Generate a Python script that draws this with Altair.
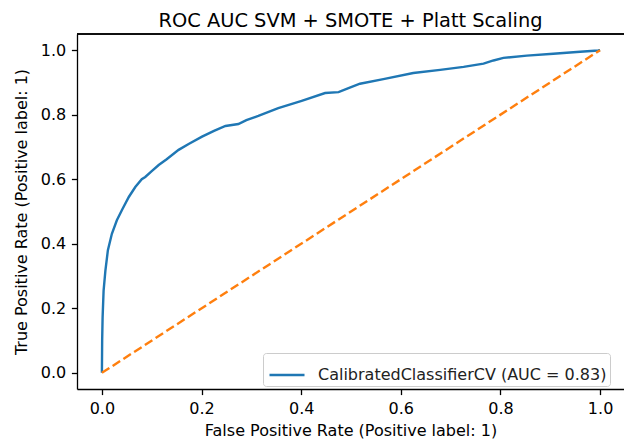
import altair as alt
import pandas as pd

# ROC curve values
fpr = [0.0, 0.0005, 0.0014, 0.0034, 0.007, 0.012, 0.020, 0.030, 0.040, 0.054,
       0.067, 0.080, 0.087, 0.100, 0.114, 0.130, 0.154, 0.175, 0.201, 0.225,
       0.248, 0.274, 0.290, 0.314, 0.354, 0.401, 0.448, 0.475, 0.495, 0.518,
       0.565, 0.625, 0.679, 0.726, 0.766, 0.786, 0.806, 0.853, 0.906, 0.960,
       0.996, 1.0]
tpr = [0.0, 0.100, 0.172, 0.255, 0.317, 0.380, 0.431, 0.473, 0.504, 0.545,
       0.576, 0.600, 0.607, 0.625, 0.644, 0.662, 0.691, 0.710, 0.732, 0.750,
       0.765, 0.771, 0.783, 0.796, 0.820, 0.843, 0.867, 0.870, 0.882, 0.896,
       0.910, 0.929, 0.939, 0.948, 0.958, 0.968, 0.976, 0.983, 0.989, 0.995,
       0.999, 1.0]
chance_x = [0.0, 1.0]
chance_y = [0.0, 1.0]
series_name = "CalibratedClassifierCV (AUC = 0.83)"
tick_vals = [0.0, 0.2, 0.4, 0.6, 0.8, 1.0]

roc = pd.DataFrame({"fpr": fpr, "tpr": tpr, "series": series_name, "order": range(len(fpr))})
chance = pd.DataFrame({"fpr": chance_x, "tpr": chance_y})

FONT = "DejaVu Sans"
W, H = 547, 355

xscale = alt.Scale(domain=[-0.05, 1.048], nice=False, zero=False)
yscale = alt.Scale(domain=[-0.05, 1.05], nice=False, zero=False)

xaxis = alt.Axis(values=tick_vals, format=".1f", grid=False, titlePadding=6,
                 title="False Positive Rate (Positive label: 1)")
yaxis = alt.Axis(values=tick_vals, format=".1f", grid=False, titlePadding=11,
                 title="True Positive Rate (Positive label: 1)")

line = alt.Chart(roc).mark_line(strokeWidth=2.4, clip=True).encode(
    x=alt.X("fpr:Q", scale=xscale, axis=xaxis),
    y=alt.Y("tpr:Q", scale=yscale, axis=yaxis),
    order="order:Q",
    color=alt.Color("series:N",
                    scale=alt.Scale(domain=[series_name], range=["#1f77b4"]),
                    legend=alt.Legend(
                        title=None, orient="none", legendX=186, legendY=319,
                        symbolType="stroke", symbolSize=1225, symbolStrokeWidth=2.4,
                        symbolOffset=2,
                        labelFont=FONT, labelFontSize=16, labelColor="#222222",
                        labelLimit=600,
                        labelOffset=12, padding=3, strokeColor="#cccccc",
                        fillColor="rgba(255,255,255,0.8)", cornerRadius=3)),
)

diag = alt.Chart(chance).mark_line(strokeWidth=2.4, strokeDash=[8.9, 3.9],
                                   color="#ff7f0e").encode(
    x=alt.X("fpr:Q", scale=xscale),
    y=alt.Y("tpr:Q", scale=yscale),
)

top_spine = alt.Chart(chance).mark_rule(color="#000000", strokeWidth=1.3).encode(
    x=alt.value(0), x2=alt.value(W), y=alt.value(0))

chart = alt.layer(line, diag, top_spine).properties(
    width=W, height=H,
    title=alt.TitleParams("ROC AUC SVM + SMOTE + Platt Scaling", font=FONT,
                          fontSize=19.4, fontWeight="normal", color="#000000",
                          anchor="middle", frame="group", offset=8, dy=21,
                          baseline="alphabetic"),
    autosize=alt.AutoSizeParams(type="none"),
    padding={"left": 77, "top": 34, "right": 0, "bottom": 55},
).configure_view(stroke=None).configure_axis(
    labelFont=FONT, labelFontSize=16, labelColor="#000000",
    titleFont=FONT, titleFontSize=16, titleFontWeight="normal", titleColor="#000000",
    domainColor="#000000", domainWidth=1.3, tickColor="#000000", tickWidth=1.3,
    tickSize=5.6, labelPadding=5.6,
)

chart.save("out.html", embed_options={"renderer": "svg", "actions": False})
